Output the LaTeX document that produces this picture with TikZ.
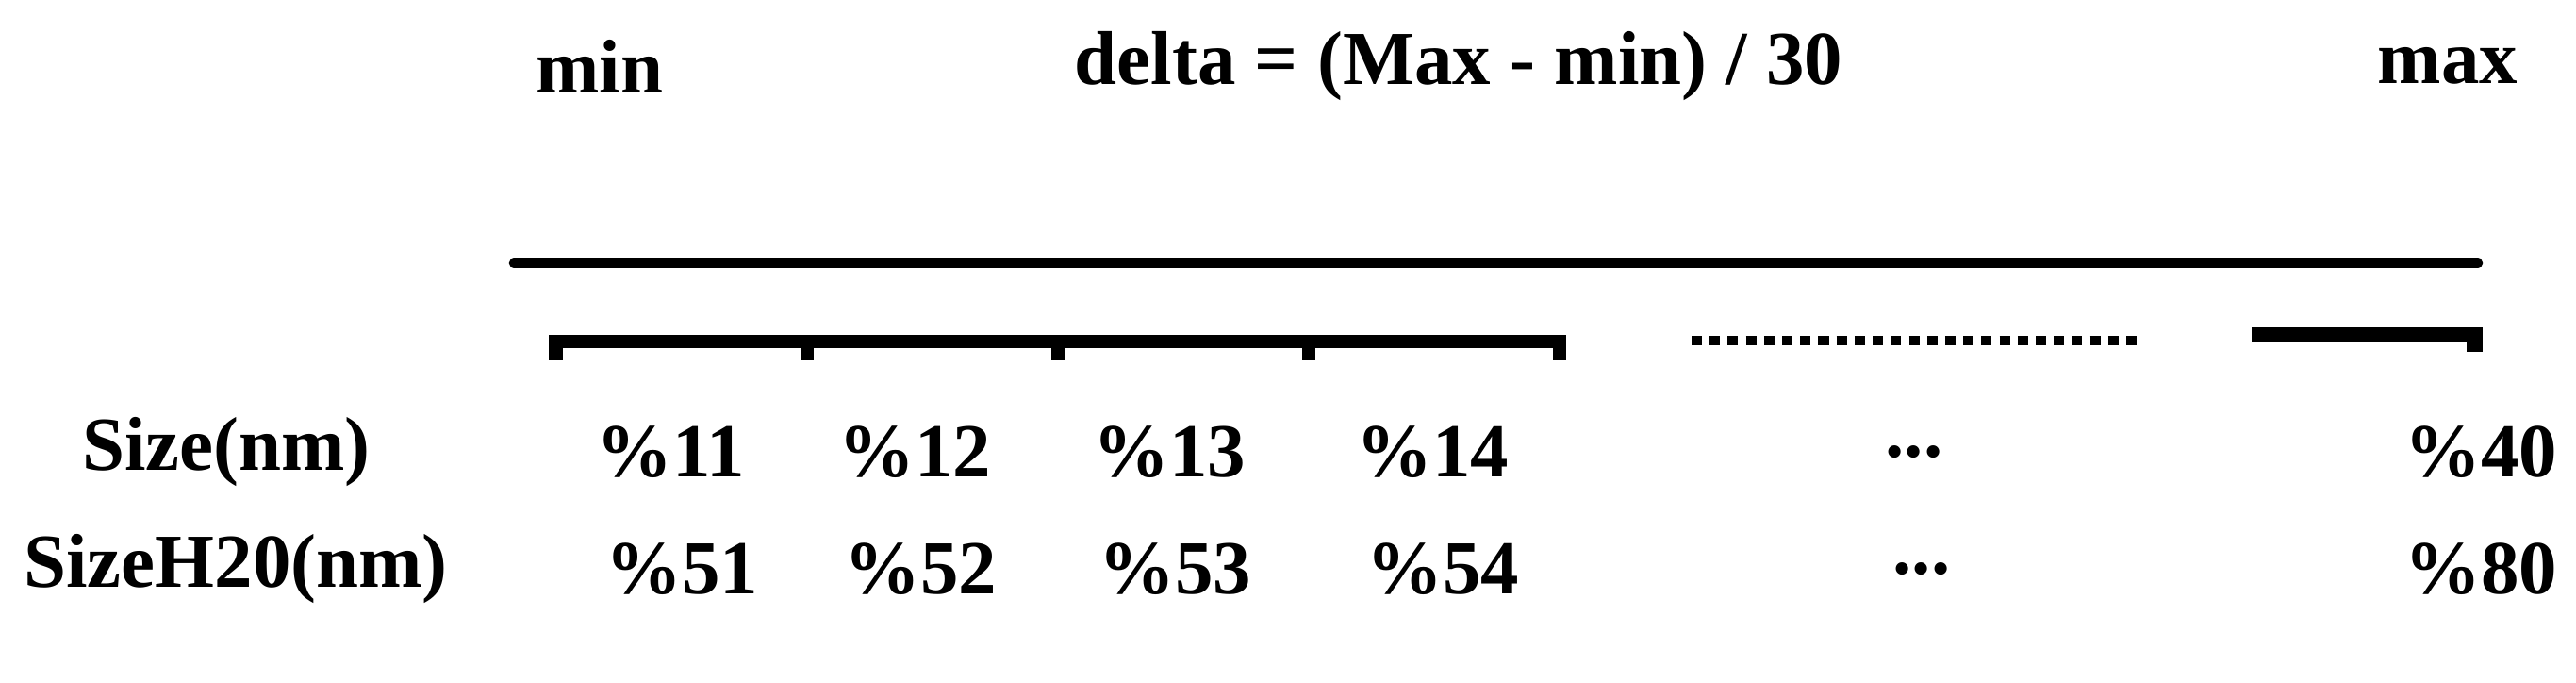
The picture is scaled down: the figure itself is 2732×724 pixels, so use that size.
\documentclass[tikz,border=0pt]{standalone}
\usepackage{fontspec}
\setmainfont{Liberation Serif}
\usetikzlibrary{positioning, calc}

\begin{document}
\begin{tikzpicture}[x=0.01cm, y=-0.01cm]%
            \tikzstyle{lbl}=[inner sep=0pt, font=\fontsize{23}{26}\selectfont\bfseries];%
            \useasboundingbox (0, 0) rectangle (2732, 724);
            \node (min) at (636, 70) [lbl] {min};
            \node (delta) at (1547, 70) [lbl] {delta = (Max - min) / 30};
            \node (max) at (2596, 70) [lbl] {max};

            \draw[line width=3pt, line cap=round] (545, 279) -- (2628, 279);

            \draw[line width=4.2pt] (582, 362) -- (1661, 362);
            \foreach \x in {589.5, 856, 1122, 1388, 1654}
                \draw[line width=4.2pt] (\x, 360) -- (\x, 382);
            \draw[line width=3.1pt, dash pattern=on 0.11cm off 0.082cm] (1794, 361) -- (2270, 361);
            \draw[line width=4.8pt] (2388, 355) -- (2624.5, 355) -- (2624.5, 373);

            \node (size) at (240, 479) [lbl] {Size(nm)};
            \node (s11) at (711, 479) [lbl] {\%11};
            \node (s12) at (970, 479) [lbl] {\%12};
            \node (s13) at (1240, 479) [lbl] {\%13};
            \node (s14) at (1519, 479) [lbl] {\%14};
            \node (sdots) at (2030, 479) [lbl] {...};
            \node (s40) at (2631, 479) [lbl] {\%40};

            \node (sizeh) at (250, 603) [lbl] {SizeH20(nm)};
            \node (h51) at (723, 603) [lbl] {\%51};
            \node (h52) at (976, 603) [lbl] {\%52};
            \node (h53) at (1246, 603) [lbl] {\%53};
            \node (h54) at (1530, 603) [lbl] {\%54};
            \node (hdots) at (2038, 603) [lbl] {...};
            \node (h80) at (2631, 603) [lbl] {\%80};
        \end{tikzpicture}
\end{document}
